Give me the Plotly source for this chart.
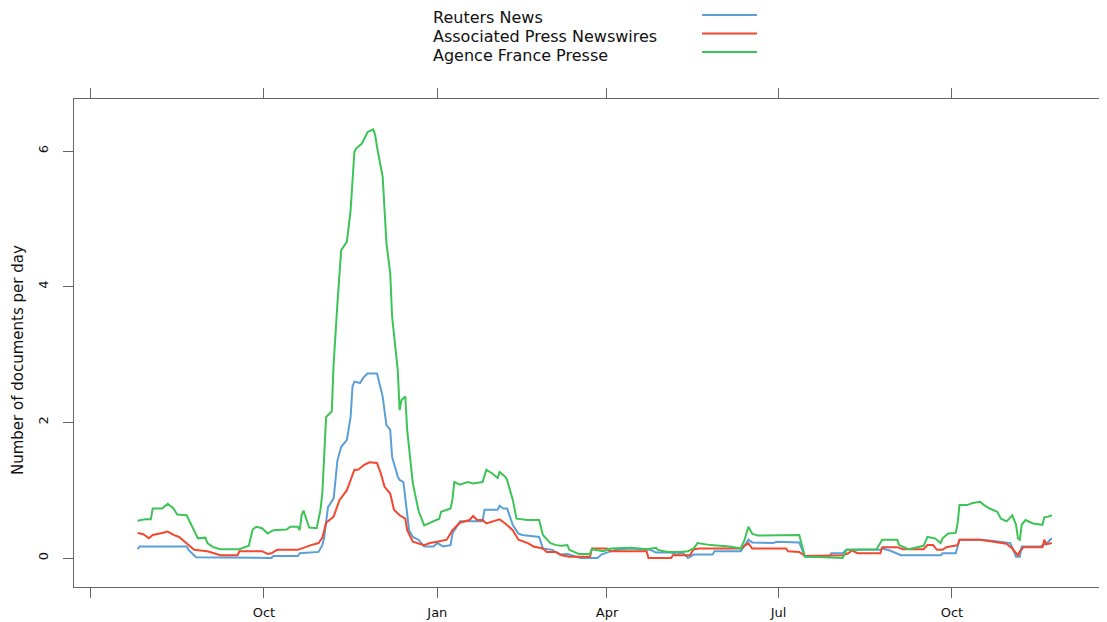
import plotly.graph_objects as go

# ---------------- data ----------------
series_names = ["Reuters News", "Associated Press Newswires", "Agence France Presse"]

reuters_dates = [
    "2012-07-26", "2012-07-27", "2012-08-21", "2012-08-22", "2012-08-26", "2012-10-05", "2012-10-06",
    "2012-10-19", "2012-10-20", "2012-10-30", "2012-11-01", "2012-11-02", "2012-11-04", "2012-11-07",
    "2012-11-09", "2012-11-11", "2012-11-14", "2012-11-16", "2012-11-17", "2012-11-18", "2012-11-21",
    "2012-11-23", "2012-11-25", "2012-11-30", "2012-12-03", "2012-12-05", "2012-12-07", "2012-12-08",
    "2012-12-11", "2012-12-12", "2012-12-14", "2012-12-16", "2012-12-17", "2012-12-19", "2012-12-22",
    "2012-12-25", "2012-12-30", "2013-01-01", "2013-01-04", "2013-01-08", "2013-01-09", "2013-01-13",
    "2013-01-25", "2013-01-26", "2013-02-02", "2013-02-03", "2013-02-05", "2013-02-07", "2013-02-10",
    "2013-02-13", "2013-02-15", "2013-02-24", "2013-02-26", "2013-03-03", "2013-03-07", "2013-03-11",
    "2013-03-18", "2013-03-27", "2013-03-29", "2013-04-02", "2013-04-06", "2013-04-13", "2013-04-24",
    "2013-04-27", "2013-05-05", "2013-05-08", "2013-05-11", "2013-05-14", "2013-05-17", "2013-05-27",
    "2013-05-28", "2013-06-11", "2013-06-12", "2013-06-15", "2013-06-17", "2013-06-28", "2013-06-30",
    "2013-07-12", "2013-07-15", "2013-07-28", "2013-07-29", "2013-08-04", "2013-08-06", "2013-08-24",
    "2013-08-25", "2013-08-29", "2013-09-04", "2013-09-25", "2013-09-26", "2013-10-03", "2013-10-05",
    "2013-10-16", "2013-10-23", "2013-11-01", "2013-11-04", "2013-11-06", "2013-11-07", "2013-11-17",
    "2013-11-19", "2013-11-20", "2013-11-23",
]
reuters_values = [
    0.13, 0.17, 0.17, 0.12, 0.01, 0.00, 0.03,
    0.03, 0.07, 0.09, 0.19, 0.31, 0.75, 0.88,
    1.44, 1.64, 1.74, 2.08, 2.53, 2.60, 2.58,
    2.67, 2.72, 2.72, 2.38, 1.96, 1.89, 1.49,
    1.20, 1.15, 1.12, 0.66, 0.41, 0.31, 0.27,
    0.17, 0.17, 0.22, 0.17, 0.19, 0.36, 0.54,
    0.54, 0.71, 0.71, 0.77, 0.73, 0.73, 0.49,
    0.36, 0.34, 0.31, 0.14, 0.12, 0.05, 0.06,
    0.00, 0.00, 0.05, 0.09, 0.12, 0.14, 0.12,
    0.08, 0.08, 0.05, 0.08, 0.00, 0.05, 0.05,
    0.10, 0.10, 0.14, 0.27, 0.23, 0.22, 0.24,
    0.23, 0.02, 0.02, 0.07, 0.07, 0.12, 0.12,
    0.14, 0.11, 0.04, 0.04, 0.07, 0.07, 0.27,
    0.27, 0.25, 0.22, 0.02, 0.02, 0.17, 0.17,
    0.20, 0.21, 0.29,
]

ap_dates = [
    "2012-07-26", "2012-07-29", "2012-08-01", "2012-08-03", "2012-08-08", "2012-08-11", "2012-08-14",
    "2012-08-17", "2012-08-20", "2012-08-23", "2012-08-25", "2012-09-01", "2012-09-08", "2012-09-17",
    "2012-09-18", "2012-09-30", "2012-10-03", "2012-10-05", "2012-10-08", "2012-10-19", "2012-10-20",
    "2012-10-21", "2012-10-26", "2012-10-30", "2012-11-01", "2012-11-03", "2012-11-07", "2012-11-10",
    "2012-11-14", "2012-11-16", "2012-11-18", "2012-11-20", "2012-11-23", "2012-11-26", "2012-11-30",
    "2012-12-02", "2012-12-04", "2012-12-07", "2012-12-09", "2012-12-12", "2012-12-15", "2012-12-16",
    "2012-12-19", "2012-12-25", "2012-12-28", "2013-01-01", "2013-01-06", "2013-01-09", "2013-01-13",
    "2013-01-18", "2013-01-20", "2013-01-22", "2013-01-25", "2013-01-27", "2013-01-30", "2013-02-03",
    "2013-02-06", "2013-02-10", "2013-02-13", "2013-02-18", "2013-02-21", "2013-02-26", "2013-02-28",
    "2013-03-05", "2013-03-08", "2013-03-12", "2013-03-23", "2013-03-24", "2013-04-01", "2013-04-03",
    "2013-04-22", "2013-04-23", "2013-05-05", "2013-05-06", "2013-05-15", "2013-05-17", "2013-05-20",
    "2013-06-11", "2013-06-15", "2013-06-17", "2013-07-05", "2013-07-06", "2013-07-12", "2013-07-15",
    "2013-08-04", "2013-08-07", "2013-08-09", "2013-08-12", "2013-08-24", "2013-08-25", "2013-09-02",
    "2013-09-05", "2013-09-16", "2013-09-18", "2013-09-21", "2013-09-23", "2013-09-26", "2013-09-28",
    "2013-10-04", "2013-10-05", "2013-10-16", "2013-10-23", "2013-10-30", "2013-11-02", "2013-11-05",
    "2013-11-06", "2013-11-08", "2013-11-18", "2013-11-19", "2013-11-20", "2013-11-23",
]
ap_values = [
    0.37, 0.35, 0.29, 0.34, 0.37, 0.39, 0.34,
    0.31, 0.24, 0.17, 0.12, 0.10, 0.04, 0.04,
    0.10, 0.10, 0.06, 0.07, 0.12, 0.12, 0.13,
    0.15, 0.19, 0.22, 0.30, 0.52, 0.61, 0.85,
    1.00, 1.15, 1.30, 1.30, 1.37, 1.41, 1.40,
    1.25, 1.05, 0.95, 0.71, 0.63, 0.58, 0.41,
    0.24, 0.19, 0.22, 0.24, 0.27, 0.41, 0.52,
    0.56, 0.62, 0.56, 0.56, 0.51, 0.54, 0.57,
    0.51, 0.41, 0.27, 0.22, 0.17, 0.14, 0.09,
    0.09, 0.04, 0.02, 0.02, 0.14, 0.14, 0.10,
    0.10, 0.00, 0.00, 0.04, 0.04, 0.13, 0.14,
    0.14, 0.22, 0.14, 0.14, 0.10, 0.09, 0.03,
    0.04, 0.07, 0.11, 0.07, 0.07, 0.16, 0.16,
    0.13, 0.13, 0.19, 0.19, 0.12, 0.12, 0.16,
    0.19, 0.27, 0.27, 0.24, 0.21, 0.14, 0.04,
    0.10, 0.16, 0.16, 0.27, 0.20, 0.22,
]

afp_dates = [
    "2012-07-26", "2012-07-30", "2012-08-02", "2012-08-03", "2012-08-08", "2012-08-11", "2012-08-14",
    "2012-08-16", "2012-08-21", "2012-08-23", "2012-08-27", "2012-08-31", "2012-09-01", "2012-09-04",
    "2012-09-08", "2012-09-18", "2012-09-23", "2012-09-25", "2012-09-27", "2012-09-30", "2012-10-03",
    "2012-10-06", "2012-10-13", "2012-10-15", "2012-10-19", "2012-10-20", "2012-10-21", "2012-10-22",
    "2012-10-24", "2012-10-25", "2012-10-29", "2012-10-31", "2012-11-01", "2012-11-03", "2012-11-06",
    "2012-11-07", "2012-11-09", "2012-11-11", "2012-11-14", "2012-11-16", "2012-11-18", "2012-11-19",
    "2012-11-22", "2012-11-25", "2012-11-28", "2012-11-29", "2012-11-30", "2012-12-03", "2012-12-05",
    "2012-12-07", "2012-12-08", "2012-12-11", "2012-12-12", "2012-12-13", "2012-12-15", "2012-12-16",
    "2012-12-19", "2012-12-22", "2012-12-25", "2012-12-30", "2013-01-02", "2013-01-03", "2013-01-08",
    "2013-01-09", "2013-01-10", "2013-01-13", "2013-01-17", "2013-01-20", "2013-01-25", "2013-01-27",
    "2013-01-30", "2013-02-02", "2013-02-03", "2013-02-06", "2013-02-07", "2013-02-10", "2013-02-12",
    "2013-02-18", "2013-02-24", "2013-02-26", "2013-03-02", "2013-03-05", "2013-03-08", "2013-03-11",
    "2013-03-12", "2013-03-17", "2013-03-23", "2013-03-24", "2013-03-30", "2013-04-03", "2013-04-12",
    "2013-04-14", "2013-04-22", "2013-04-27", "2013-04-28", "2013-05-03", "2013-05-10", "2013-05-14",
    "2013-05-17", "2013-05-19", "2013-05-26", "2013-06-05", "2013-06-11", "2013-06-13", "2013-06-15",
    "2013-06-17", "2013-06-20", "2013-07-12", "2013-07-15", "2013-08-04", "2013-08-06", "2013-08-22",
    "2013-08-25", "2013-09-02", "2013-09-03", "2013-09-08", "2013-09-16", "2013-09-18", "2013-09-22",
    "2013-09-25", "2013-09-26", "2013-09-29", "2013-10-03", "2013-10-04", "2013-10-05", "2013-10-09",
    "2013-10-12", "2013-10-16", "2013-10-18", "2013-10-21", "2013-10-25", "2013-10-27", "2013-10-30",
    "2013-11-02", "2013-11-04", "2013-11-05", "2013-11-06", "2013-11-07", "2013-11-09", "2013-11-13",
    "2013-11-18", "2013-11-19", "2013-11-21", "2013-11-23",
]
afp_values = [
    0.55, 0.57, 0.57, 0.73, 0.73, 0.80, 0.73,
    0.64, 0.63, 0.51, 0.29, 0.30, 0.22, 0.16,
    0.13, 0.13, 0.18, 0.42, 0.46, 0.44, 0.36,
    0.41, 0.42, 0.46, 0.46, 0.41, 0.63, 0.70,
    0.55, 0.45, 0.44, 0.71, 0.96, 2.08, 2.16,
    2.87, 3.75, 4.54, 4.66, 5.13, 5.99, 6.04,
    6.11, 6.28, 6.32, 6.24, 6.06, 5.62, 4.64,
    4.20, 3.56, 2.77, 2.18, 2.33, 2.38, 1.89,
    1.10, 0.70, 0.48, 0.54, 0.58, 0.68, 0.73,
    0.86, 1.12, 1.08, 1.12, 1.10, 1.12, 1.30,
    1.25, 1.18, 1.27, 1.20, 1.15, 0.86, 0.58,
    0.56, 0.56, 0.34, 0.22, 0.19, 0.18, 0.19,
    0.12, 0.06, 0.06, 0.13, 0.10, 0.14, 0.15,
    0.15, 0.13, 0.15, 0.12, 0.09, 0.09, 0.10,
    0.14, 0.22, 0.19, 0.17, 0.14, 0.27, 0.46,
    0.36, 0.33, 0.34, 0.02, 0.00, 0.12, 0.13,
    0.27, 0.27, 0.19, 0.13, 0.18, 0.31, 0.29,
    0.22, 0.29, 0.36, 0.37, 0.51, 0.78, 0.78,
    0.81, 0.83, 0.78, 0.73, 0.68, 0.58, 0.54,
    0.63, 0.49, 0.29, 0.27, 0.49, 0.56, 0.51,
    0.49, 0.60, 0.61, 0.63,
]

x_tick_dates = ["2012-07-01", "2012-10-01", "2013-01-01", "2013-04-01", "2013-07-01", "2013-10-01"]
x_tick_labels = ["", "Oct", "Jan", "Apr", "Jul", "Oct"]
y_tick_values = [0, 2, 4, 6]
y_title = "Number of documents per day"

# ---------------- styling ----------------
colors = ["#5a9fd8", "#f2482f", "#3dc456"]
FONT = "DejaVu Sans"
AXIS = "#666666"

OFF = 8  # page body margin in which the figure sits
W, H = 1107 - OFF, 622 - OFF
L, R, T, B = 74 - OFF, 0, 99 - OFF, 35
pw, ph = W - L - R, H - T - B


def px_x(px):
    # page pixel -> paper fraction
    return (px - OFF - L) / pw


def px_y(py):
    return (H - B - (py - OFF)) / ph


fig = go.Figure()
all_series = [
    (reuters_dates, reuters_values),
    (ap_dates, ap_values),
    (afp_dates, afp_values),
]
for name, (d, v), c in zip(series_names, all_series, colors):
    fig.add_trace(go.Scatter(x=d, y=v, mode="lines", name=name,
                             line=dict(color=c, width=2), showlegend=False))

# manual legend: text on the left, line sample on the right (as in the original)
legend_text_y = [17, 36, 55]
legend_line_y = [15, 33.5, 52]
for name, c, ty, ly in zip(series_names, colors, legend_text_y, legend_line_y):
    fig.add_annotation(x=px_x(431), y=px_y(ty), xref="paper", yref="paper",
                       text=name, showarrow=False, xanchor="left", yanchor="middle",
                       font=dict(family=FONT, size=16, color="#111111"))
    fig.add_shape(type="line", xref="paper", yref="paper",
                  x0=px_x(702), x1=px_x(757), y0=px_y(ly), y1=px_y(ly),
                  line=dict(color=c, width=2))

# y axis title
fig.add_annotation(x=px_x(18), y=px_y(360), xref="paper", yref="paper",
                   text=y_title, showarrow=False, textangle=-90,
                   xanchor="center", yanchor="middle",
                   font=dict(family=FONT, size=15, color="#111111"))

fig.update_layout(
    width=W, height=H, autosize=False,
    margin=dict(l=L, r=R, t=T, b=B, pad=0),
    plot_bgcolor="white", paper_bgcolor="white",
    font=dict(family=FONT, color="#111111"),
    showlegend=False,
)
fig.update_xaxes(
    type="date",
    range=["2012-06-22 06:00", "2013-12-22 06:00"],
    tickmode="array", tickvals=x_tick_dates, ticktext=x_tick_labels,
    ticks="outside", ticklen=10, tickwidth=1, tickcolor=AXIS,
    showline=True, linecolor=AXIS, linewidth=1, mirror="ticks",
    showgrid=False, zeroline=False,
    tickfont=dict(family=FONT, size=13, color="#111111"),
    ticklabelstandoff=3,
)
fig.update_yaxes(
    range=[-0.4275, 6.767],
    tickmode="array", tickvals=y_tick_values,
    ticks="outside", ticklen=10, tickwidth=1, tickcolor=AXIS,
    showline=True, linecolor=AXIS, linewidth=1, mirror=False,
    showgrid=False, zeroline=False, tickangle=-90,
    tickfont=dict(family=FONT, size=13, color="#111111"),
    ticklabelstandoff=10,
)

fig.write_html("out.html")
